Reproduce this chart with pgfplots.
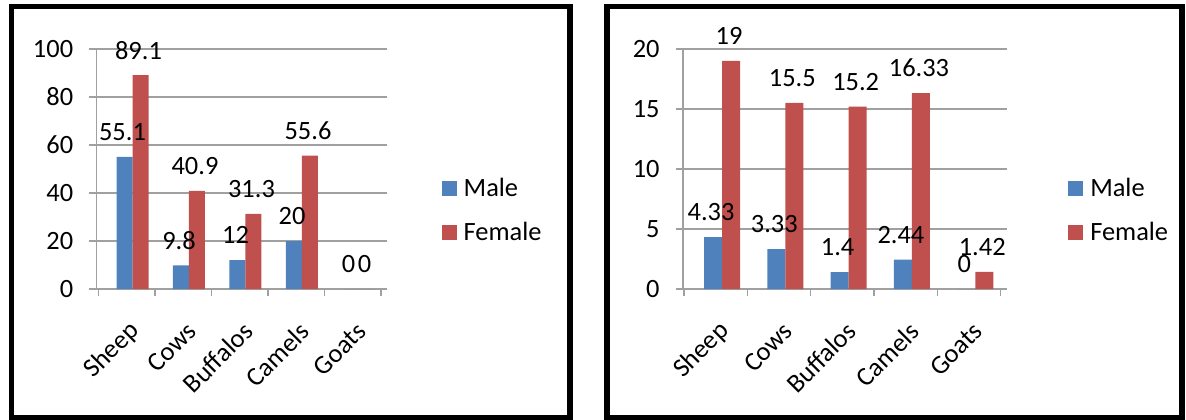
\documentclass[border=0pt]{standalone}
\usepackage{fontspec}
\setmainfont{Carlito}
\usepackage{pgfplots}
\pgfplotsset{compat=1.18}

\definecolor{maleC}{RGB}{79,129,189}
\definecolor{femaleC}{RGB}{192,80,77}
\definecolor{gridC}{RGB}{160,160,160}

\pgfplotsset{
  farm/.style={
    scale only axis, height=240bp, ymin=0,
    ybar=0pt,
    axis x line*=bottom, axis y line*=left,
    axis line style={gridC, line width=1.5bp},
    ymajorgrids, grid style={gridC, line width=1.5bp},
    tick style={gridC, line width=1.5bp},
    tick align=outside, major tick length=7bp,
    /pgf/number format/assume math mode=true,
    font=\fontsize{26.5}{31}\selectfont,
    yticklabel style={inner sep=0pt, xshift=-16bp},
    xtick={-0.6,0.4,1.4,2.4,3.4,4.4}, xticklabels={,,,,,},
    extra x ticks={0,1,2,3,4},
    extra x tick labels={Sheep,Cows,Buffalos,Camels,Goats},
    extra x tick style={major tick length=0pt},
    xticklabel style={inner sep=0pt, xshift=3bp, yshift=-38bp, rotate=45, anchor=east},
    nodes near coords,
    every node near coord/.append style={font=\fontsize{26.5}{31}\selectfont,
      inner sep=0pt, anchor=center, yshift=25bp, xshift=-2bp, black},
    legend style={draw=none, fill=none, inner sep=0pt, outer sep=0pt,
      at={(1.1893,0.328)}, anchor=west, row sep=24bp, column sep=7bp,
      nodes={inner sep=0pt}},
    legend cell align=left,
  },
  male/.style={draw=none, fill=maleC,
    legend image code/.code={\fill[maleC] (0bp,-7.5bp) rectangle (15bp,7.5bp);}},
  female/.style={draw=none, fill=femaleC,
    legend image code/.code={\fill[femaleC] (0bp,-7.5bp) rectangle (15bp,7.5bp);}},
}

\begin{document}
\begin{tikzpicture}[x=1bp,y=1bp]
\path[use as bounding box] (0,0) rectangle (1186,419);

% left chart
\begin{axis}[farm, at={(96.34bp,130bp)}, anchor=south west,
  width=290.4bp, xmin=-0.64, xmax=4.5, ymax=100, ytick={0,20,...,100},
  bar width=16bp]
\addplot[male] coordinates {(0,55.1) (1,9.8) (2,12) (3,20) (4,0)};
\addplot[female] coordinates {(0,89.1) (1,40.9) (2,31.3) (3,55.6) (4,0)};
\legend{Male,Female}
\end{axis}

% right chart
\begin{axis}[farm, at={(682.8bp,130bp)}, anchor=south west,
  width=324.1bp, xmin=-0.62, xmax=4.5, ymax=20, ytick={0,5,...,20},
  bar width=18bp]
\addplot[male] coordinates {(0,4.33) (1,3.33) (2,1.4) (3,2.44) (4,0)};
\addplot[female] coordinates {(0,19) (1,15.5) (2,15.2) (3,16.33) (4,1.42)};
\legend{Male,Female}
\end{axis}

\draw[line width=5.5bp] (11.7,1.5) rectangle (570,412.7);
\draw[line width=5.5bp] (607,1.5) rectangle (1182,412.7);
\end{tikzpicture}
\end{document}
